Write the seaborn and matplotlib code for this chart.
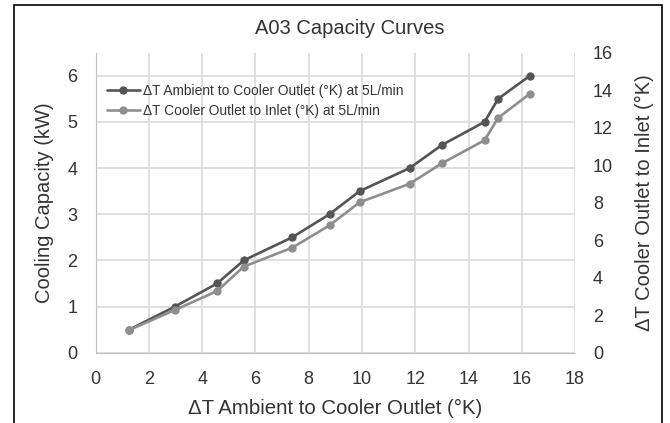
import seaborn as sns
import matplotlib.pyplot as plt
from matplotlib.lines import Line2D
from matplotlib.patches import Rectangle

# Data
dt_ambient_outlet = [1.26, 2.98, 4.56, 5.56, 7.38, 8.78, 9.91, 11.79, 13.0, 14.6, 15.11, 16.3]
cooling_capacity = [0.5, 1.0, 1.5, 2.0, 2.5, 3.0, 3.5, 4.0, 4.5, 5.0, 5.5, 6.0]
dt_outlet_inlet = [1.21, 2.28, 3.29, 4.59, 5.6, 6.79, 8.02, 9.01, 10.1, 11.33, 12.52, 13.81]

series_labels = ['ΔT Ambient to Cooler Outlet (°K) at 5L/min',
                 'ΔT Cooler Outlet to Inlet (°K) at 5L/min']

sns.set_style('white')
plt.rcParams['font.family'] = ['Liberation Sans', 'DejaVu Sans']

dark = '#555555'
light = '#8e8e8e'
text_col = '#333333'

fig = plt.figure(figsize=(6.7, 4.23), dpi=100)
ax = fig.add_axes([0.1428, 0.1662, 0.7155, 0.7092])
ax2 = ax.twinx()

sns.lineplot(x=dt_ambient_outlet, y=cooling_capacity, ax=ax, color=dark,
             marker='o', markersize=6, markeredgewidth=0, linewidth=1.9, sort=False)
sns.lineplot(x=dt_ambient_outlet, y=dt_outlet_inlet, ax=ax2, color=light,
             marker='o', markersize=6, markeredgewidth=0, linewidth=1.9, sort=False)

ax.set_xlim(0, 18)
ax.set_ylim(0, 6.5)
ax2.set_ylim(0, 16)
ax.set_xticks(range(0, 19, 2))
ax.set_yticks(range(0, 7))
ax2.set_yticks(range(0, 17, 2))

ax.grid(True, color='#d9d9d9', linewidth=1.2)
ax.set_axisbelow(True)
for a in (ax, ax2):
    for s in a.spines.values():
        s.set_visible(False)
    a.tick_params(length=0, labelsize=13, labelcolor=text_col)
ax.spines['left'].set_visible(True)
ax.spines['left'].set_color('#bfbfbf')
ax.spines['bottom'].set_visible(True)
ax.spines['bottom'].set_color('#bfbfbf')
ax.tick_params(axis='x', pad=13)
ax.tick_params(axis='y', pad=13)
ax2.tick_params(axis='y', pad=13)

ax.set_xlabel('ΔT Ambient to Cooler Outlet (°K)', fontsize=14.7, color=text_col, labelpad=8)
ax.set_ylabel('Cooling Capacity (kW)', fontsize=14.5, color=text_col, labelpad=10)
ax2.set_ylabel('ΔT Cooler Outlet to Inlet (°K)', fontsize=14.5, color=text_col, labelpad=15.5)
fig.text(350 / 670, 1 - 28 / 423, 'A03 Capacity Curves', fontsize=14.5, color=text_col,
         ha='center', va='center')

handles = [Line2D([], [], color=dark, marker='o', markersize=6, markeredgewidth=0, linewidth=1.9),
           Line2D([], [], color=light, marker='o', markersize=6, markeredgewidth=0, linewidth=1.9)]
ax.legend(handles, series_labels, loc='upper left', bbox_to_anchor=(0.006, 0.923),
          frameon=False, fontsize=9.9, handlelength=2.4, handletextpad=0.25,
          labelspacing=0.45, borderaxespad=0.2, labelcolor=text_col)

fig.patches.append(Rectangle((13.5 / 670, -0.1), (661.5 - 13.5) / 670, 1.1 - 5.5 / 423,
                             transform=fig.transFigure, fill=False,
                             edgecolor='black', linewidth=1.2))

fig.savefig('out.png', dpi=100)
